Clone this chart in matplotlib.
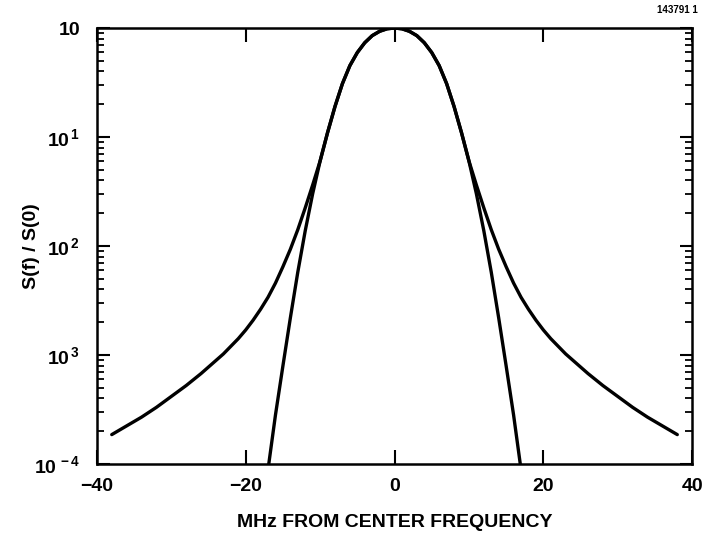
import matplotlib
matplotlib.use('Agg')

import matplotlib.pyplot as plt
import matplotlib.ticker as ticker
import numpy as np

plt.rcParams['font.family'] = ['Liberation Sans', 'DejaVu Sans']
plt.rcParams['mathtext.fontset'] = 'custom'
plt.rcParams['mathtext.rm'] = 'Liberation Sans:bold'
plt.rcParams['mathtext.it'] = 'Liberation Sans:bold'
plt.rcParams['mathtext.bf'] = 'Liberation Sans:bold'

# offsets from center (MHz), one side; mirrored for the other side
f_gauss = [0, 1, 2, 3, 4, 5, 6, 7, 8, 9, 10, 11, 12, 13, 14, 15, 16, 16.9]
log_gauss = [0, -0.007, -0.03, -0.07, -0.135, -0.225, -0.345, -0.51, -0.72,
             -0.96, -1.22, -1.52, -1.86, -2.24, -2.66, -3.10, -3.55, -4.0]

f_wide = [0, 1, 2, 3, 4, 5, 6, 7, 8, 9, 10, 11, 12, 13, 14, 15, 16, 17, 18,
          19, 20, 21, 22, 23, 24, 26, 28, 30, 32, 34, 36, 38]
log_wide = [0, -0.007, -0.03, -0.07, -0.135, -0.225, -0.345, -0.51, -0.72,
            -0.96, -1.22, -1.44, -1.65, -1.85, -2.03, -2.19, -2.34, -2.47,
            -2.58, -2.68, -2.77, -2.85, -2.92, -2.99, -3.05, -3.17, -3.28,
            -3.38, -3.48, -3.57, -3.65, -3.73]

ytick_vals = [1, 1e-1, 1e-2, 1e-3, 1e-4]
ytick_labels = ['10', '10$^{\\,1}$', '10$^{\\,2}$', '10$^{\\,3}$', '10$^{\\,-4}$']
xtick_vals = [-40, -20, 0, 20, 40]
xtick_labels = ['\u221240', '\u221220', '0', '20', '40']


def mirror(f, lg):
    f = np.array(f, dtype=float)
    v = 10 ** np.array(lg, dtype=float)
    return np.concatenate([-f[::-1], f[1:]]), np.concatenate([v[::-1], v[1:]])


fig = plt.figure(figsize=(7.02, 5.44), dpi=100)
ax = fig.add_axes([0.138, 0.147, 0.848, 0.8015])

x, y = mirror(f_wide, log_wide)
ax.plot(x, y, color='black', linewidth=2.4, solid_capstyle='round',
        solid_joinstyle='round')
x, y = mirror(f_gauss, log_gauss)
ax.plot(x, y, color='black', linewidth=2.4, solid_capstyle='round',
        solid_joinstyle='round')

ax.set_yscale('log')
ax.set_xlim(-40, 40)
ax.set_ylim(1e-4, 1)

ax.set_xticks(xtick_vals)
ax.set_xticklabels(xtick_labels, fontweight='bold')
ax.set_yticks(ytick_vals)
ax.set_yticklabels(ytick_labels, fontweight='bold')
ax.yaxis.set_minor_locator(ticker.LogLocator(base=10, subs=np.arange(2, 10)))
ax.yaxis.set_minor_formatter(ticker.NullFormatter())

ax.tick_params(axis='x', which='major', direction='in', length=10, width=1.5,
               top=True, labelsize=14, pad=10)
ax.tick_params(axis='y', which='major', direction='in', length=9, width=1.5,
               right=True, labelsize=14, pad=12)
ax.tick_params(axis='y', which='minor', direction='in', length=5, width=1.3,
               right=True)

for s in ax.spines.values():
    s.set_linewidth(1.8)

ax.set_xlabel('MHz FROM CENTER FREQUENCY', fontsize=14, fontweight='bold',
              labelpad=14)
ax.set_ylabel('S(f) / S(0)', fontsize=14, fontweight='bold', labelpad=-4)

fig.text(0.994, 0.972, '143791 1', fontsize=7, fontweight='bold', ha='right', va='bottom')

fig.savefig('out.png', dpi=100)
